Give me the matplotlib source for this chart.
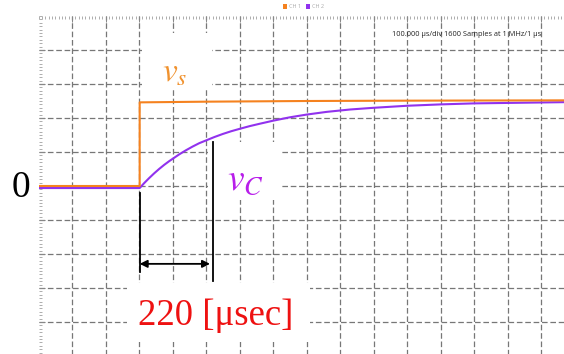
import numpy as np
import matplotlib
matplotlib.use("Agg")
import matplotlib.pyplot as plt
from matplotlib.patches import Rectangle
from matplotlib.ticker import MultipleLocator

# scope traces, time in microseconds, level in divisions (0 = centre line)
t_ch1 = [0, 302, 302, 500, 800, 1100, 1600]
v_ch1 = [0.0, 0.0, 2.46, 2.48, 2.50, 2.51, 2.52]

t_ch2 = [0, 302, 315, 330, 345, 360, 375, 390, 405, 420, 440, 460, 480, 500, 525,
         550, 575, 600, 630, 660, 700, 750, 800, 860, 930, 1000, 1100, 1200, 1300,
         1450, 1600]
v_ch2 = [-0.06, -0.06, 0.08, 0.23, 0.37, 0.50, 0.62, 0.73, 0.83, 0.93, 1.05, 1.16,
         1.26, 1.34, 1.44, 1.53, 1.61, 1.68, 1.76, 1.83, 1.92, 2.02, 2.10, 2.18,
         2.25, 2.30, 2.36, 2.40, 2.43, 2.45, 2.47]

# time-constant markers
t_step = 302
t_tau = 521
tau_label = "220 [\u03bcsec]"

scope_info = "100.000 \u03bcs/div 1600 Samples at 1 MHz/1 \u03bcs"
channels = ["CH 1", "CH 2"]
ch_colors = ["#F5821F", "#9132EE"]

W, H = 564, 354
fig = plt.figure(figsize=(W / 100, H / 100), dpi=100)
fig.patch.set_facecolor("white")


def fx(px):
    return px / W


def fy(py):
    return 1 - py / H


ax = fig.add_axes([fx(38.5), fy(356), 536 / W, 340 / H])
ax.set_xlim(0, 1600)
ax.set_ylim(-5, 5)
ax.set_xticks(np.arange(100, 1600, 100))
ax.set_yticks(np.arange(-4, 5, 1))
ax.xaxis.set_minor_locator(MultipleLocator(10))
ax.yaxis.set_minor_locator(MultipleLocator(0.1))
ax.tick_params(which="both", labelbottom=False, labelleft=False,
               bottom=False, right=False, top=True, left=True, direction="in")
ax.tick_params(which="major", length=4, width=0.7, color="#888888")
ax.tick_params(which="minor", length=2.5, width=0.6, color="#a0a0a0")
for s in ax.spines.values():
    s.set_visible(False)
ax.set_axisbelow(True)
ax.grid(True, which="major", color="#777777", lw=0.9, ls=(0, (4.5, 2.2)))

# white patches behind the pasted annotations
for (x0, y0, w, h) in [(309, 2.82, 209, 1.68), (506, -0.41, 221, 1.70), (264, -4.59, 546, 1.74)]:
    ax.add_patch(Rectangle((x0, y0), w, h, facecolor="white", edgecolor="none", zorder=1.5))

ax.plot(t_ch2, v_ch2, color=ch_colors[1], lw=1.5, zorder=3)
ax.plot(t_ch1, v_ch1, color=ch_colors[0], lw=1.5, zorder=4)

ax.plot([t_step, t_step], [-0.2, -2.53], color="black", lw=1.3, zorder=5)
ax.plot([t_tau, t_tau], [1.29, -2.79], color="black", lw=1.3, zorder=5)
ax.annotate("", xy=(t_tau - 9, -2.29), xytext=(t_step, -2.29),
            arrowprops=dict(arrowstyle="<|-|>", color="black", lw=1.3,
                            mutation_scale=11, shrinkA=0, shrinkB=0), zorder=5)

# texts
fig.text(fx(20.5), fy(188), "0", fontsize=27, family="Liberation Serif",
         ha="center", va="center")
fig.text(fx(175), fy(72), r"$v_s$", fontsize=24, color="#F0922F",
         math_fontfamily="stix", ha="center", va="center")
fig.text(fx(245), fy(180), r"$v_C$", fontsize=27, color="#B81EEA",
         math_fontfamily="stix", ha="center", va="center")
fig.text(fx(215.5), fy(325), tau_label, fontsize=26.5, color="#EE1111",
         family="Liberation Serif", ha="center", va="baseline")

fig.text(fx(466.5), fy(34), scope_info, fontsize=5.3, family="Open Sans",
         ha="center", va="center", color="#222222")

# channel legend
lx = [283, 306]
for i, name in enumerate(channels):
    fig.patches.append(Rectangle((fx(lx[i]), fy(8.5)), 4 / W, 4 / H,
                                 transform=fig.transFigure, facecolor=ch_colors[i],
                                 edgecolor="none"))
    fig.text(fx(lx[i] + 6), fy(6.5), name, fontsize=4, family="Open Sans",
             color="#aaaaaa", ha="left", va="center")

fig.savefig("out.png", dpi=100, facecolor="white")
